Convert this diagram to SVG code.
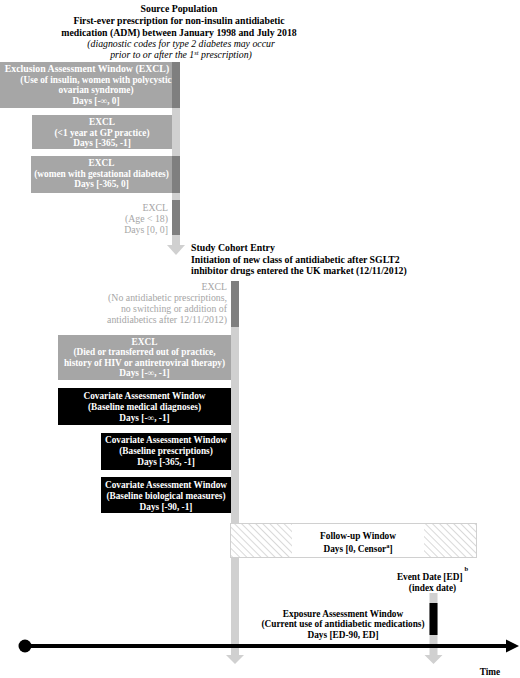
<svg xmlns="http://www.w3.org/2000/svg" width="520" height="678" viewBox="0 0 520 678">
<style>
text{font-family:"Liberation Serif","Times New Roman",serif;font-size:9.3px;}
.t{font-size:9.8px;}
.b{font-weight:bold;}
.c{text-anchor:middle;}
.e{text-anchor:end;}
.w{fill:#ffffff;font-weight:bold;}
.g{fill:#a6a6a6;font-size:9.8px;}
.it{font-style:italic;}
.box{fill:#a6a6a6;}
.blk{fill:#000000;}
.strip{fill:#7f7f7f;}
.bar{fill:#d0d0d0;}
</style>
<defs>
<pattern id="hatch" patternUnits="userSpaceOnUse" width="5" height="5" patternTransform="rotate(-45)">
<rect width="5" height="5" fill="#ffffff"/>
<line x1="0" y1="0" x2="0" y2="5" stroke="#d0d0d0" stroke-width="1.6"/>
</pattern>
</defs>
<rect width="520" height="678" fill="#ffffff"/>

<g id="connectors">
<rect class="bar" x="172" y="62" width="8" height="184"/>
<polygon class="bar" points="167,245 185,245 176,255"/>
<rect class="bar" x="231" y="281" width="8" height="375"/>
<polygon class="bar" points="226,655 244,655 235,664"/>
<rect class="bar" x="429.5" y="593" width="8" height="63"/>
<polygon class="bar" points="424.5,655 442.5,655 433.5,664"/>
<line x1="25" y1="646" x2="508" y2="646" stroke="#000" stroke-width="4"/>
<polygon points="506,639.5 519,646 506,652.5" fill="#000"/>
<circle cx="25" cy="646" r="6.5" fill="#000"/>
</g>

<g id="source">
<text class="t b c" x="179" y="12">Source Population</text>
<text class="t b c" x="179" y="24">First-ever prescription for non-insulin antidiabetic</text>
<text class="t b c" x="179" y="35.5">medication (ADM) between January 1998 and July 2018</text>
<text class="t it c" x="181" y="47">(diagnostic codes for type 2 diabetes may occur</text>
<text class="t it c" x="181" y="58">prior to or after the 1<tspan font-size="6.5" dy="-3.5">st</tspan><tspan dy="3.5"> prescription)</tspan></text>
</g>

<g id="excl-insulin">
<rect class="box" x="0" y="62" width="172" height="46"/>
<rect class="strip" x="172" y="62" width="8" height="46"/>
<text class="w c t" x="87" y="71.5">Exclusion Assessment Window (EXCL)</text>
<text class="w c" x="96" y="82.5">(Use of insulin, women with polycystic</text>
<text class="w c" x="96" y="93">ovarian syndrome)</text>
<text class="w c" x="96" y="103.5">Days [-∞, 0]</text>
</g>

<g id="excl-gp">
<rect class="box" x="32" y="115" width="140" height="34"/>
<text class="w c" x="102" y="125">EXCL</text>
<text class="w c" x="102" y="135.5">(&lt;1 year at GP practice)</text>
<text class="w c" x="102" y="146">Days [-365, -1]</text>
</g>

<g id="excl-gestational">
<rect class="box" x="31" y="156" width="141" height="37"/>
<rect class="strip" x="172" y="156" width="8" height="37"/>
<text class="w c" x="101.5" y="165.5">EXCL</text>
<text class="w c" x="101.5" y="176.5">(women with gestational diabetes)</text>
<text class="w c" x="101.5" y="187">Days [-365, 0]</text>
</g>

<g id="excl-age">
<rect class="strip" x="172" y="200" width="8" height="35"/>
<text class="g e" x="168" y="210.5">EXCL</text>
<text class="g e" x="168" y="221.5">(Age &lt; 18)</text>
<text class="g e" x="168" y="232.5">Days [0, 0]</text>
</g>

<g id="cohort-entry">
<text class="t b" x="191" y="251">Study Cohort Entry</text>
<text class="t b" x="191" y="262.5">Initiation of new class of antidiabetic after SGLT2</text>
<text class="t b" x="191" y="273.5">inhibitor drugs entered the UK market (12/11/2012)</text>
</g>

<g id="excl-noswitch">
<rect class="strip" x="231" y="281" width="8" height="46"/>
<text class="g e" x="227" y="289.5">EXCL</text>
<text class="g e" x="227" y="300.5">(No antidiabetic prescriptions,</text>
<text class="g e" x="227" y="311.5">no switching or addition of</text>
<text class="g e" x="227" y="322.5">antidiabetics after 12/11/2012)</text>
</g>

<g id="excl-died">
<rect class="box" x="58" y="335" width="173" height="45"/>
<text class="w c" x="144.5" y="344.5">EXCL</text>
<text class="w c" x="144.5" y="355">(Died or transferred out of practice,</text>
<text class="w c" x="144.5" y="365.5">history of HIV or antiretroviral therapy)</text>
<text class="w c" x="144.5" y="376">Days [-∞, -1]</text>
</g>

<g id="cov-diagnoses">
<rect class="blk" x="58" y="388" width="173" height="37"/>
<text class="w c" x="144.5" y="398.5">Covariate Assessment Window</text>
<text class="w c" x="144.5" y="409.5">(Baseline medical diagnoses)</text>
<text class="w c" x="144.5" y="420.5">Days [-∞, -1]</text>
</g>

<g id="cov-prescriptions">
<rect class="blk" x="101" y="433" width="130" height="37"/>
<text class="w c" x="166" y="442.5">Covariate Assessment Window</text>
<text class="w c" x="166" y="453.5">(Baseline prescriptions)</text>
<text class="w c" x="166" y="464.5">Days [-365, -1]</text>
</g>

<g id="cov-biological">
<rect class="blk" x="101" y="477" width="130" height="36"/>
<text class="w c" x="166" y="487.5">Covariate Assessment Window</text>
<text class="w c" x="166" y="498.5">(Baseline biological measures)</text>
<text class="w c" x="166" y="509.5">Days [-90, -1]</text>
</g>

<g id="follow-up">
<rect x="230.5" y="523.5" width="246" height="34" fill="url(#hatch)" stroke="#d0d0d0" stroke-width="1"/>
<rect x="292" y="524" width="132" height="33" fill="#ffffff"/>
<text class="b c" x="358" y="538.5">Follow-up Window</text>
<text class="b c" x="358" y="552">Days [0, Censor<tspan font-size="6.5" dy="-4">a</tspan><tspan dy="4">]</tspan></text>
</g>

<g id="event-date">
<text class="b c" x="432.5" y="579.5">Event Date [ED]<tspan font-size="6.5" dx="2" dy="-9">b</tspan></text>
<text class="b c" x="432.5" y="590.5">(index date)</text>
</g>

<g id="exposure">
<rect class="blk" x="429.5" y="603" width="8" height="32"/>
<text class="b c" x="343" y="616.5">Exposure Assessment Window</text>
<text class="b c" x="343" y="627">(Current use of antidiabetic medications)</text>
<text class="b c" x="343" y="637.5">Days [ED-90, ED]</text>
</g>

<g id="time-label">
<text class="b c" x="490" y="675">Time</text>
</g>
</svg>
